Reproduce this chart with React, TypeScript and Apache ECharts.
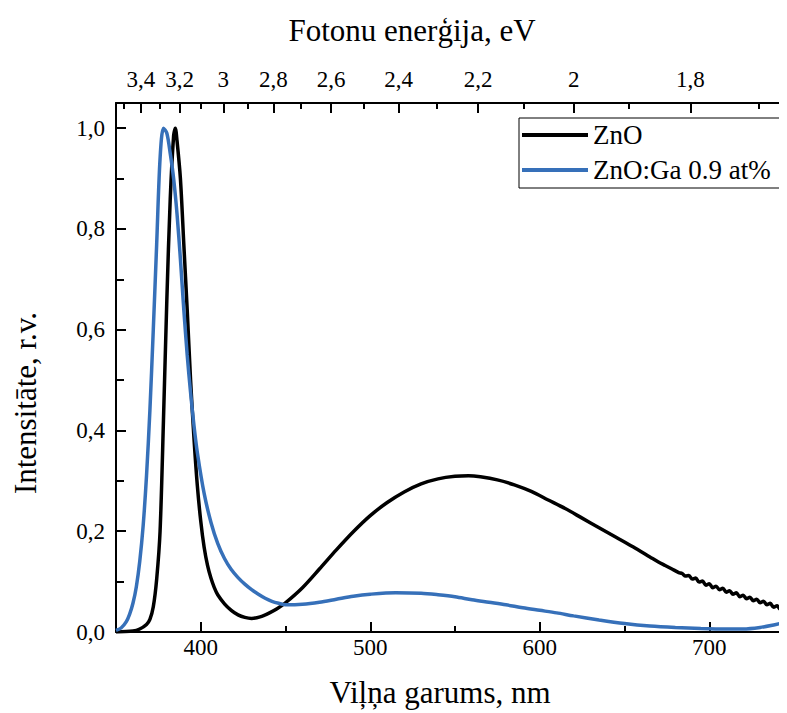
import React, { useEffect, useRef } from "react";
import * as echarts from "echarts";

// Wavelength (nm) and normalised intensity
const ZNO_WL = [350, 360, 364, 368, 370, 372, 374, 376, 378, 380, 382, 384, 385, 386, 388, 390, 392, 394, 396, 398, 400, 402, 404, 406, 408, 410, 414, 418, 422, 426, 430, 435, 440, 445, 450, 460, 470, 480, 490, 500, 510, 520, 530, 540, 550, 558, 565, 575, 585, 595, 605, 615, 625, 635, 645, 655, 665, 670, 674, 678, 682, 684, 686, 688, 690, 692, 694, 696, 698, 700, 702, 704, 706, 708, 710, 712, 714, 716, 718, 720, 722, 724, 726, 728, 730, 732, 734, 736, 738, 740, 742, 744, 746, 748, 750];
const ZNO_I = [0, 0.002, 0.006, 0.015, 0.025, 0.05, 0.105, 0.2, 0.42, 0.66, 0.86, 0.985, 1.0, 0.975, 0.9, 0.77, 0.64, 0.5, 0.385, 0.29, 0.22, 0.168, 0.132, 0.107, 0.088, 0.074, 0.056, 0.043, 0.034, 0.029, 0.027, 0.03, 0.037, 0.046, 0.058, 0.088, 0.125, 0.163, 0.199, 0.231, 0.257, 0.278, 0.294, 0.304, 0.309, 0.31, 0.308, 0.302, 0.292, 0.279, 0.262, 0.245, 0.226, 0.207, 0.188, 0.169, 0.149, 0.139, 0.132, 0.125, 0.118, 0.116, 0.111, 0.112, 0.105, 0.107, 0.099, 0.101, 0.093, 0.096, 0.088, 0.091, 0.084, 0.087, 0.079, 0.082, 0.075, 0.078, 0.07, 0.073, 0.066, 0.069, 0.062, 0.065, 0.058, 0.061, 0.054, 0.057, 0.049, 0.052, 0.045, 0.048, 0.041, 0.044, 0.037];

const GA_WL = [350, 353, 356, 358, 360, 362, 364, 366, 368, 370, 372, 374, 376, 378, 380, 382, 384, 386, 388, 390, 392, 394, 396, 398, 402, 406, 410, 414, 418, 422, 426, 430, 434, 438, 442, 446, 450, 460, 470, 480, 490, 500, 515, 530, 540, 550, 560, 570, 580, 590, 600, 610, 620, 635, 650, 665, 680, 695, 710, 720, 730, 738, 746, 750];
const GA_I = [0.003, 0.008, 0.02, 0.035, 0.057, 0.09, 0.14, 0.21, 0.31, 0.44, 0.6, 0.77, 0.94, 1.0, 0.99, 0.95, 0.9, 0.83, 0.74, 0.64, 0.55, 0.475, 0.41, 0.356, 0.275, 0.218, 0.176, 0.146, 0.124, 0.108, 0.095, 0.084, 0.075, 0.067, 0.061, 0.057, 0.054, 0.055, 0.059, 0.065, 0.071, 0.075, 0.078, 0.077, 0.074, 0.07, 0.064, 0.059, 0.054, 0.048, 0.043, 0.038, 0.032, 0.024, 0.017, 0.012, 0.009, 0.007, 0.006, 0.006, 0.009, 0.014, 0.02, 0.023];

const SERIES_NAMES = ["ZnO", "ZnO:Ga 0.9 at%"];
const SERIES_COLORS = ["#000000", "#3670b9"];
const WL_MAJOR = [400, 500, 600, 700];
const WL_MINOR = [450, 550, 650];
const ENERGY_MAJOR = [3.4, 3.2, 3.0, 2.8, 2.6, 2.4, 2.2, 2.0, 1.8];
const ENERGY_MINOR = [3.5, 3.3, 3.1, 2.9, 2.7, 2.5, 2.3, 2.1, 1.9, 1.7];
const Y_MAJOR = [0, 0.2, 0.4, 0.6, 0.8, 1.0];
const Y_MINOR = [0.1, 0.3, 0.5, 0.7, 0.9];
const HC = 1240; // eV·nm

const FONT = '"Liberation Serif", "Times New Roman", serif';
const comma = (v: number, d: number) => v.toFixed(d).replace(".", ",");

export default function App() {
  const ref = useRef<HTMLDivElement>(null);
  useEffect(() => {
    document.documentElement.style.overflow = "hidden";
    document.body.style.overflow = "hidden";
    const chart = echarts.init(ref.current!, null, { renderer: "svg" });
    const axisLine = { show: true, lineStyle: { color: "#000", width: 2 } };
    const tickStyle = { color: "#000", width: 2 };
    const xBase = { type: "value", min: 350, max: 750, gridIndex: 0, splitLine: { show: false } };
    const lineSeries = (idx: number, wl: number[], inten: number[]) => ({
      name: SERIES_NAMES[idx],
      type: "line",
      xAxisIndex: 0,
      yAxisIndex: 0,
      data: wl.map((w, i) => [w, inten[i]]),
      showSymbol: false,
      symbol: "none",
      smooth: 0.3,
      lineStyle: { color: SERIES_COLORS[idx], width: 3.5 },
      itemStyle: { color: SERIES_COLORS[idx] },
      z: 3 + idx,
    });
    const option: any = {
      animation: false,
      backgroundColor: "#fff",
      grid: { left: 108, top: 95, width: 678, height: 529, containLabel: false },
      legend: {
        left: 511,
        top: 110,
        orient: "vertical",
        data: SERIES_NAMES.map((n) => ({ name: n, icon: "rect" })),
        itemWidth: 66,
        itemHeight: 4,
        itemGap: 5,
        padding: [2, 14, 3, 3],
        borderColor: "#000",
        borderWidth: 1,
        backgroundColor: "#fff",
        textStyle: { fontFamily: FONT, fontSize: 27, color: "#000", lineHeight: 30 },
      },
      xAxis: [
        {
          ...xBase,
          position: "bottom",
          axisLine,
          axisTick: { show: true, inside: true, length: 10, customValues: WL_MAJOR, lineStyle: tickStyle },
          axisLabel: { customValues: WL_MAJOR, fontFamily: FONT, fontSize: 23, color: "#000", margin: 4 },
        },
        {
          ...xBase,
          position: "bottom",
          axisLine: { show: false },
          axisTick: { show: true, inside: true, length: 6, customValues: WL_MINOR, lineStyle: tickStyle },
          axisLabel: { show: false },
        },
        {
          ...xBase,
          position: "top",
          axisLine,
          axisTick: { show: true, inside: true, length: 10, customValues: ENERGY_MAJOR.map((e) => HC / e), lineStyle: tickStyle },
          axisLabel: {
            customValues: ENERGY_MAJOR.map((e) => HC / e),
            formatter: (v: number) => String(Math.round((HC / v) * 10) / 10).replace(".", ","),
            fontFamily: FONT,
            fontSize: 23,
            color: "#000",
            margin: 12,
          },
        },
        {
          ...xBase,
          position: "top",
          axisLine: { show: false },
          axisTick: { show: true, inside: true, length: 6, customValues: ENERGY_MINOR.map((e) => HC / e), lineStyle: tickStyle },
          axisLabel: { show: false },
        },
      ],
      yAxis: [
        {
          type: "value",
          min: 0,
          max: 1.05,
          position: "left",
          splitLine: { show: false },
          axisLine,
          axisTick: { show: true, inside: true, length: 10, customValues: Y_MAJOR, lineStyle: tickStyle },
          axisLabel: { customValues: Y_MAJOR, formatter: (v: number) => comma(v, 1), fontFamily: FONT, fontSize: 23, color: "#000", margin: 11 },
        },
        {
          type: "value",
          min: 0,
          max: 1.05,
          position: "left",
          splitLine: { show: false },
          axisLine: { show: false },
          axisTick: { show: true, inside: true, length: 8, customValues: Y_MINOR, lineStyle: tickStyle },
          axisLabel: { show: false },
        },
      ],
      series: [lineSeries(0, ZNO_WL, ZNO_I), lineSeries(1, GA_WL, GA_I)],
      graphic: [
        {
          type: "text",
          x: 404,
          y: 22,
          style: { text: "Fotonu enerģija, eV", fontFamily: FONT, fontSize: 31, fill: "#000", align: "center", verticalAlign: "middle" },
        },
        {
          type: "text",
          x: 432,
          y: 684,
          style: { text: "Viļņa garums, nm", fontFamily: FONT, fontSize: 31, fill: "#000", align: "center", verticalAlign: "middle" },
        },
        {
          type: "text",
          x: 17,
          y: 395,
          rotation: Math.PI / 2,
          style: { text: "Intensitāte, r.v.", fontFamily: FONT, fontSize: 31, fill: "#000", align: "center", verticalAlign: "middle" },
        },
      ],
    };
    chart.setOption(option);
    return () => chart.dispose();
  }, []);
  return <div ref={ref} style={{ width: 800, height: 705 }} />;
}
